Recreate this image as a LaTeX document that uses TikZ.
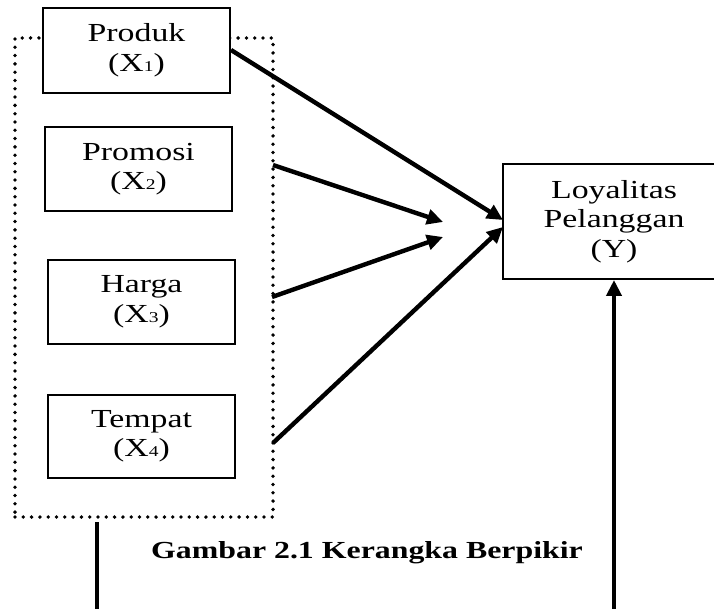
\documentclass[tikz,border=0pt]{standalone}
\usepackage{fontspec}
\setmainfont{Liberation Serif}[FakeStretch=1.3]
\usetikzlibrary{arrows.meta,positioning}
\newcommand{\subdig}[1]{{\fontsize{15}{15}\selectfont #1}}
\tikzset{
  varbox/.style={draw, line width=2pt, minimum width=187pt, minimum height=84pt, align=center, inner sep=0pt, font=\fontsize{26}{29.5}\selectfont},
  dotbox/.style={draw, line width=3.8pt, dash pattern=on 0pt off 8.3pt, line cap=round, inner sep=0pt},
  arr/.style={line width=4.4pt, -{Triangle[length=16pt,width=15pt]}},
  plainline/.style={line width=4.4pt}
}
\begin{document}
\begin{tikzpicture}[x=1pt,y=-1pt]
\clip (0,0) rectangle (714,609);
\fill[white] (0,0) rectangle (714,609);
\node[dotbox, minimum width=258pt, minimum height=479pt] (dot) at (144,277.5) {};
\node[varbox, fill=white, minimum height=85pt] (x1) at (136.5,50.5) {Produk\\(X\subdig{1})};
\node[varbox] (x2) at (138.5,169) {Promosi\\(X\subdig{2})};
\node[varbox] (x3) at (141.5,302) {Harga\\(X\subdig{3})};
\node[varbox, minimum height=83pt] (x4) at (141.5,436.5) {Tempat\\(X\subdig{4})};
\node[varbox, minimum width=222pt, minimum height=115pt] (y) at (614,221.5) {Loyalitas\\Pelanggan\\(Y)};
\node[font=\fontsize{24.5}{26}\selectfont\bfseries] (cap) at (367,553) {Gambar 2.1 Kerangka Berpikir};
\coordinate (p2) at (273,165);
\coordinate (p3) at (272,297);
\coordinate (p4) at (273,443);
\coordinate (t2) at (443,222);
\coordinate (t3) at (443,237);
\coordinate (t1) at (503,220);
\coordinate (t4) at (503,227);
\coordinate (l1) at (97,522);
\coordinate (l2) at (97,615);
\coordinate (r1) at (614,615);
\draw[arr] (x1.east |- 0,50) -- (t1);
\draw[arr] (p2) -- (t2);
\draw[arr] (p3) -- (t3);
\draw[arr] (p4) -- (t4);
\draw[plainline] (l1) -- (l2);
\draw[arr] (r1) -- (y.south);
\end{tikzpicture}
\end{document}
